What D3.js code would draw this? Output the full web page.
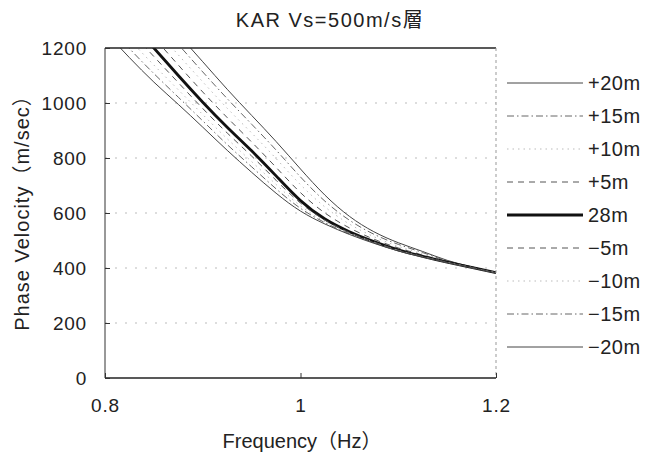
<!DOCTYPE html>
<html>
<head>
<meta charset="utf-8">
<script src="https://cdn.jsdelivr.net/npm/d3@7"></script>
<style>
  body { margin: 0; background: #fff; }
  svg { display: block; font-family: "Liberation Sans", Arial, "Noto Sans CJK JP", sans-serif; }
</style>
</head>
<body>
<svg id="chart" width="661" height="462"></svg>
<script>
// frequencies (Hz)
const freqs = [0.80, 0.825, 0.85, 0.875, 0.90, 0.925, 0.95, 0.975, 1.0, 1.025, 1.05, 1.075, 1.1, 1.125, 1.15, 1.175, 1.2];

// phase velocity (m/sec) for each depth case
const vPlus20  = [1550, 1450, 1350, 1250, 1150, 1050, 955, 860, 760, 665, 588, 532, 492, 460, 428, 404, 383];
const vPlus15  = [1511, 1412, 1313, 1213, 1113, 1016, 923, 829, 731, 643, 574, 523, 486, 456, 426, 404, 383];
const vPlus10  = [1473, 1374, 1275, 1175, 1077, 981, 891, 798, 703, 622, 560, 514, 479, 451, 425, 403, 383];
const vPlus5   = [1434, 1336, 1238, 1138, 1040, 947, 858, 766, 674, 600, 546, 505, 473, 447, 423, 403, 383];
const v28      = [1395, 1298, 1200, 1100, 1003, 912, 826, 735, 645, 578, 532, 496, 466, 442, 421, 402, 383];
const vMinus5  = [1361, 1265, 1169, 1074, 980, 891, 807, 719, 636, 574, 529, 495, 465, 442, 421, 402, 383];
const vMinus10 = [1328, 1231, 1138, 1048, 958, 870, 787, 704, 626, 569, 527, 493, 464, 441, 421, 402, 383];
const vMinus15 = [1294, 1198, 1107, 1021, 935, 849, 768, 688, 617, 565, 524, 492, 463, 441, 420, 401, 382];
const vMinus20 = [1260, 1165, 1076, 995, 912, 828, 748, 672, 607, 560, 522, 490, 462, 440, 420, 401, 382];

const seriesNames = ["+20m", "+15m", "+10m", "+5m", "28m", "-5m", "-10m", "-15m", "-20m"];
const seriesValues = [vPlus20, vPlus15, vPlus10, vPlus5, v28, vMinus5, vMinus10, vMinus15, vMinus20];

const yTicks = [0, 200, 400, 600, 800, 1000, 1200];
const xTicks = [0.8, 1.0, 1.2];

// line look per series
const styles = {
  "+20m": { w: 1, c: "#444", dash: null },
  "+15m": { w: 1, c: "#666", dash: "7,3,1.5,3" },
  "+10m": { w: 1, c: "#bbb", dash: "1.5,4" },
  "+5m":  { w: 1, c: "#555", dash: "6,5" },
  "28m":  { w: 2.8, c: "#111", dash: null },
  "-5m":  { w: 1, c: "#555", dash: "6,5" },
  "-10m": { w: 1, c: "#bbb", dash: "1.5,4" },
  "-15m": { w: 1, c: "#666", dash: "7,3,1.5,3" },
  "-20m": { w: 1, c: "#444", dash: null }
};

const svg = d3.select("#chart");
const plotL = 105, plotR = 496, plotT = 48, plotB = 378;

const x = d3.scaleLinear().domain([0.8, 1.2]).range([plotL, plotR]);
const y = d3.scaleLinear().domain([0, 1200]).range([plotB, plotT]);

svg.append("rect").attr("width", 661).attr("height", 462).attr("fill", "#fff");

// title
svg.append("text")
  .attr("x", 330).attr("y", 27)
  .attr("text-anchor", "middle")
  .attr("font-size", 20)
  .attr("letter-spacing", 1.5)
  .attr("fill", "#222")
  .text("KAR Vs=500m/s層");

// dotted grid
svg.append("g")
  .selectAll("line")
  .data(yTicks.filter(d => d > 0 && d < 1200))
  .enter()
  .append("line")
  .attr("x1", plotL).attr("x2", plotR)
  .attr("y1", d => y(d)).attr("y2", d => y(d))
  .attr("stroke", "#bbb")
  .attr("stroke-width", 1)
  .attr("stroke-dasharray", "2,8");

// curves
svg.append("clipPath").attr("id", "clip")
  .append("rect").attr("x", plotL).attr("y", plotT).attr("width", plotR - plotL).attr("height", plotB - plotT);

const line = d3.line()
  .x((d, i) => x(freqs[i]))
  .y(d => y(d))
  .curve(d3.curveNatural);

svg.append("g")
  .attr("clip-path", "url(#clip)")
  .selectAll("path")
  .data(seriesNames.map((n, i) => ({ name: n, values: seriesValues[i] })))
  .enter()
  .append("path")
  .attr("d", d => line(d.values))
  .attr("fill", "none")
  .attr("stroke", d => styles[d.name].c)
  .attr("stroke-width", d => styles[d.name].w)
  .attr("stroke-dasharray", d => styles[d.name].dash);

// frame: solid top/left/bottom, faint dotted right
svg.append("line").attr("x1", plotL).attr("x2", plotR).attr("y1", plotT).attr("y2", plotT)
  .attr("stroke", "#222").attr("stroke-width", 1.3);
svg.append("line").attr("x1", plotL).attr("x2", plotR).attr("y1", plotB).attr("y2", plotB)
  .attr("stroke", "#222").attr("stroke-width", 1.5);
svg.append("line").attr("x1", plotL).attr("x2", plotL).attr("y1", plotT).attr("y2", plotB)
  .attr("stroke", "#333").attr("stroke-width", 1);
svg.append("line").attr("x1", plotR).attr("x2", plotR).attr("y1", plotT).attr("y2", plotB)
  .attr("stroke", "#999").attr("stroke-width", 1).attr("stroke-dasharray", "3,3");

// axes
const yAxis = d3.axisLeft(y).tickValues(yTicks).tickSizeInner(-5).tickSizeOuter(0).tickPadding(18)
  .tickFormat(d => String(d));
const gy = svg.append("g").attr("transform", `translate(${plotL},0)`).call(yAxis);
gy.select(".domain").remove();
gy.selectAll("text").attr("font-size", 19).attr("letter-spacing", 0.8).attr("fill", "#222")
  .attr("font-family", "Liberation Sans, Arial, sans-serif");
gy.selectAll(".tick line").attr("stroke", "#333");

const xAxis = d3.axisBottom(x).tickValues(xTicks).tickSizeInner(-5).tickSizeOuter(0).tickPadding(21)
  .tickFormat(d => String(+d.toFixed(1)));
const gx = svg.append("g").attr("transform", `translate(0,${plotB})`).call(xAxis);
gx.select(".domain").remove();
gx.selectAll("text").attr("font-size", 19).attr("letter-spacing", 0.8).attr("fill", "#222")
  .attr("font-family", "Liberation Sans, Arial, sans-serif");
gx.selectAll(".tick line").attr("stroke", "#333");

// axis titles
svg.append("text")
  .attr("x", 302).attr("y", 448)
  .attr("text-anchor", "middle")
  .attr("font-size", 20)
  .attr("fill", "#222")
  .text("Frequency（Hz）");

svg.append("text")
  .attr("transform", "translate(29,208) rotate(-90)")
  .attr("text-anchor", "middle")
  .attr("font-size", 20)
  .attr("letter-spacing", 1)
  .attr("fill", "#222")
  .text("Phase Velocity（m/sec）");

// legend
const legend = svg.append("g")
  .selectAll("g")
  .data(seriesNames)
  .enter()
  .append("g")
  .attr("transform", (d, i) => `translate(507,${83 + i * 33})`);

legend.append("line")
  .attr("x1", 0).attr("x2", 76)
  .attr("stroke", d => styles[d].c)
  .attr("stroke-width", d => styles[d].w)
  .attr("stroke-dasharray", d => styles[d].dash);

legend.append("text")
  .attr("x", 81).attr("dy", "0.35em")
  .attr("font-size", 20)
  .attr("letter-spacing", 0.5)
  .attr("fill", "#222")
  .text(d => d.replace("-", "\u2212"));
</script>
</body>
</html>
